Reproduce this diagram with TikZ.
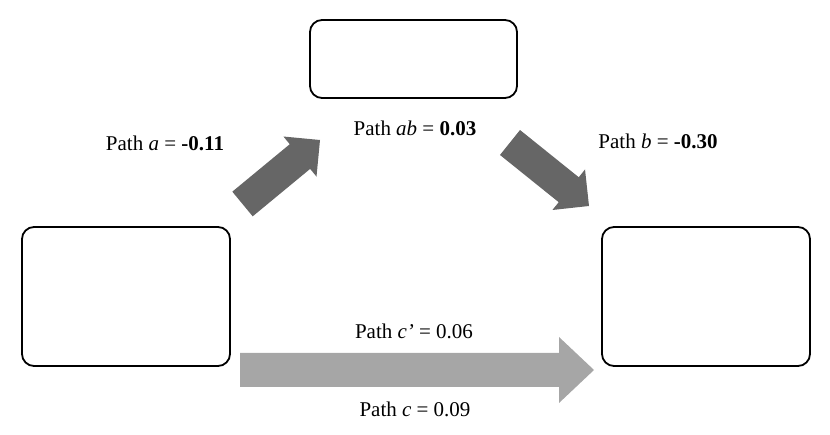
\documentclass[tikz,border=0pt]{standalone}
\usepackage{fontspec}
\setmainfont{Liberation Serif}
\usetikzlibrary{calc}
\definecolor{darkarrow}{HTML}{666666}
\definecolor{lightarrow}{HTML}{A6A6A6}
\newcommand\blockarrow[6]{%
  \coordinate (base) at ($(#2)!#5!(#1)$);
  \fill[#6] ($(#1)!#3!90:(#2)$) -- ($(base)!#3!90:(#2)$) -- ($(base)!#4!90:(#2)$)
    -- (#2) -- ($(base)!#4!-90:(#2)$) -- ($(base)!#3!-90:(#2)$) -- ($(#1)!#3!-90:(#2)$) -- cycle;
}
\begin{document}
\begin{tikzpicture}[x=1pt,y=-1pt,
  box/.style={draw, line width=1.8pt, rounded corners=12pt, inner sep=0pt},
  lbl/.style={font=\fontsize{21}{25}\selectfont, inner sep=0pt}]
\useasboundingbox (0,0) rectangle (830,435);
\node[box, minimum width=207pt, minimum height=78pt] (M) at (413.5,59) {};
\node[box, minimum width=208pt, minimum height=139pt] (X) at (126,296.5) {};
\node[box, minimum width=208pt, minimum height=139pt] (Y) at (706,296.5) {};
\coordinate (at) at (242.5,204);
\coordinate (ah) at (320,140);
\coordinate (bt) at (510,142.5);
\coordinate (bh) at (589,206);
\coordinate (ct) at (240,370);
\coordinate (ch) at (594,370);
\blockarrow{at}{ah}{16pt}{26pt}{26pt}{darkarrow}
\blockarrow{bt}{bh}{16pt}{26pt}{26pt}{darkarrow}
\blockarrow{ct}{ch}{17pt}{33pt}{35pt}{lightarrow}
\node[lbl] (la) at (165,143) {Path \textit{a} = \textbf{-0.11}};
\node[lbl] (lab) at (415,128) {Path \textit{ab} = \textbf{0.03}};
\node[lbl] (lb) at (658,141) {Path \textit{b} = \textbf{-0.30}};
\node[lbl] (lcp) at (414,331) {Path \textit{c’} = 0.06};
\node[lbl] (lc) at (415,409) {Path \textit{c} = 0.09};
\end{tikzpicture}
\end{document}
